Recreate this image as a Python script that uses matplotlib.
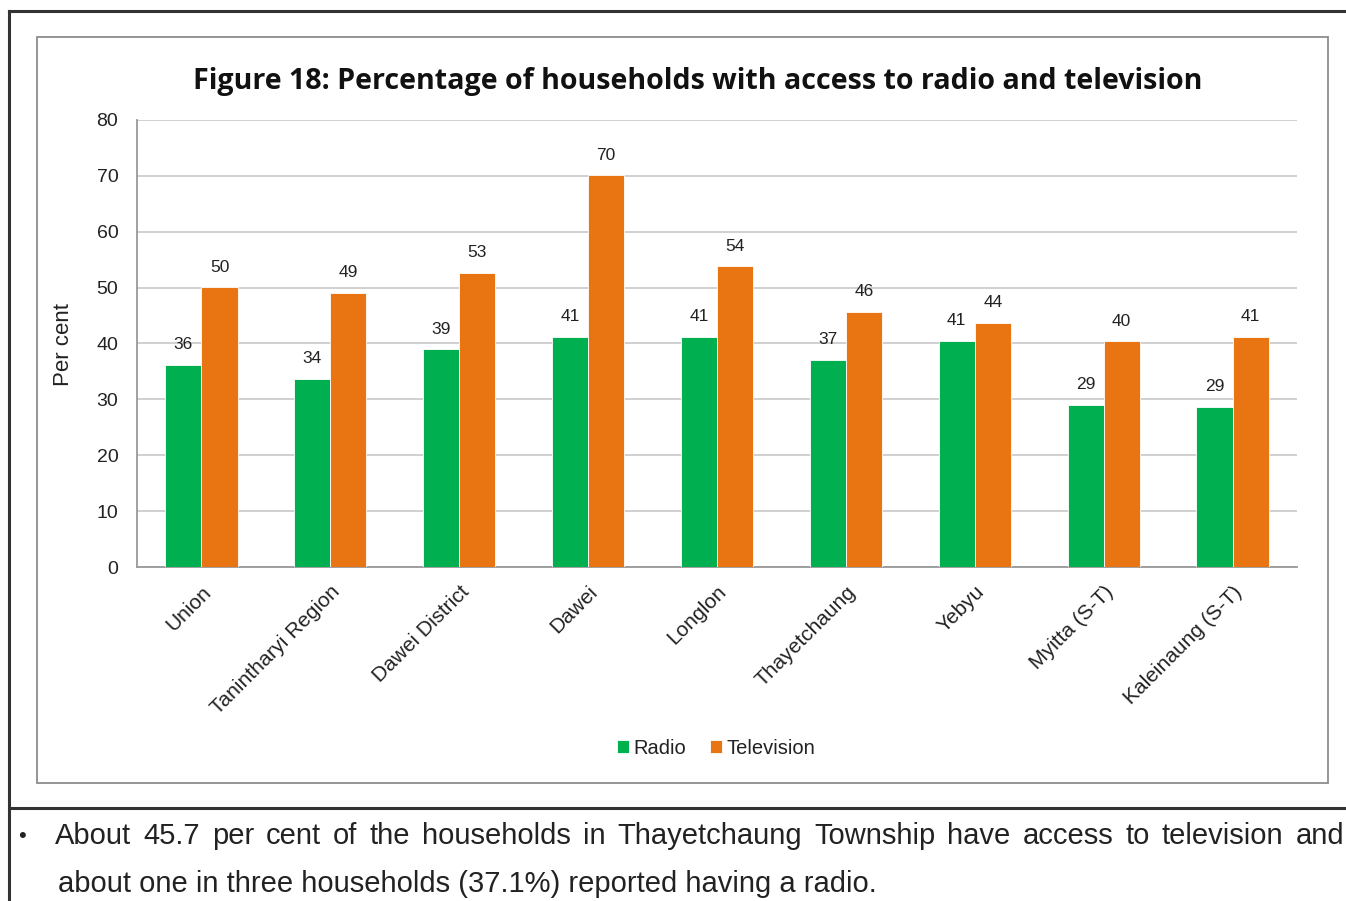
import matplotlib
matplotlib.use("Agg")
import matplotlib.pyplot as plt
from matplotlib.font_manager import FontProperties
from matplotlib.patches import Rectangle
from matplotlib.lines import Line2D
import numpy as np

categories = ["Union", "Tanintharyi Region", "Dawei District", "Dawei", "Longlon",
              "Thayetchaung", "Yebyu", "Myitta (S-T)", "Kaleinaung (S-T)"]
radio = [36.2, 33.7, 39.0, 41.2, 41.2, 37.1, 40.5, 29.0, 28.7]
television = [50.1, 49.1, 52.7, 70.1, 53.8, 45.7, 43.7, 40.4, 41.2]
radio_labels = ["36", "34", "39", "41", "41", "37", "41", "29", "29"]
tv_labels = ["50", "49", "53", "70", "54", "46", "44", "40", "41"]
yticks = [0, 10, 20, 30, 40, 50, 60, 70, 80]
title = "Figure 18: Percentage of households with access to radio and television"
line1 = "About 45.7 per cent of the households in Thayetchaung Township have access to television and"
line2 = "about one in three households (37.1%) reported having a radio."

GREEN = "#00B050"
ORANGE = "#E87511"

W, H = 1346, 901
fig = plt.figure(figsize=(W / 100, H / 100), dpi=100)
fig.patch.set_facecolor("white")

def fx(x): return x / W
def fy(y): return 1 - y / H

sans = ["Liberation Sans", "DejaVu Sans"]

# outer frame lines
for (x0, y0, x1, y1) in [(9, 11, W, 11), (9, 11, 9, H), (9, 808, W, 808)]:
    fig.add_artist(Line2D([fx(x0), fx(x1)], [fy(y0), fy(y1)], color="#333333", lw=2.2,
                          transform=fig.transFigure))
# inner chart box
fig.add_artist(Rectangle((fx(37), fy(783)), fx(1328) - fx(37), fy(37) - fy(783),
                         transform=fig.transFigure, fill=False, ec="#8c8c8c", lw=1.3))

ax = fig.add_axes([fx(137), fy(567), fx(1297) - fx(137), fy(120) - fy(567)])
x = np.arange(len(categories))
bw = 0.28
b1 = ax.bar(x - bw / 2, radio, bw, color=GREEN, edgecolor="white", linewidth=0.6, label="Radio", zorder=3)
b2 = ax.bar(x + bw / 2, television, bw, color=ORANGE, edgecolor="white", linewidth=0.6, label="Television", zorder=3)
for bars, labs in ((b1, radio_labels), (b2, tv_labels)):
    for rect, lab in zip(bars, labs):
        ax.annotate(lab, (rect.get_x() + rect.get_width() / 2, rect.get_height()), xytext=(0, 9),
                    textcoords="offset points", ha="center", va="bottom", fontsize=12.5,
                    family=sans, color="#222222")

ax.set_xlim(-0.5, len(categories) - 0.5)
ax.set_ylim(0, 80)
ax.set_yticks(yticks)
ax.set_yticklabels([str(v) for v in yticks], family=sans, fontsize=14, color="#222222")
ax.set_xticks(x)
ax.set_xticklabels(categories, rotation=45, ha="right", rotation_mode="anchor",
                   family=sans, fontsize=15, color="#222222")
ax.tick_params(axis="both", length=0)
ax.tick_params(axis="y", pad=13.5)
ax.tick_params(axis="x", pad=11)
ax.grid(axis="y", color="#c8c8c8", lw=1.2, zorder=0)
for s in ["top", "right"]:
    ax.spines[s].set_visible(False)
for s in ["left", "bottom"]:
    ax.spines[s].set_color("#999999")
    ax.spines[s].set_linewidth(1.3)
ax.set_ylabel("Per cent", family=sans, fontsize=16, color="#222222")
ax.yaxis.set_label_coords((74 - 137) / (1297 - 137), (567 - 345) / (567 - 120))

fig.text(fx(698), fy(81), title, ha="center", va="center", fontsize=20.6,
         fontweight="bold", family=["Open Sans", "DejaVu Sans"], color="#111111")

leg = fig.legend(handles=[b1, b2], labels=["Radio", "Television"], loc="center",
                 bbox_to_anchor=(fx(716), fy(748)), ncol=2, frameon=False,
                 prop=FontProperties(family=sans, size=14.5), handlelength=0.6,
                 handleheight=0.6, handletextpad=0.2, columnspacing=1.2)
for t in leg.get_texts():
    t.set_color("#222222")

# body text
fig.text(fx(22), fy(836), "\u2022", ha="center", va="center", fontsize=16, family=sans, color="#222222")
fig.canvas.draw()
renderer = fig.canvas.get_renderer()
words = line1.split(" ")
fp = FontProperties(family=sans, size=21)
tmp = [fig.text(0, 0, w, fontproperties=fp) for w in words]
widths = [t.get_window_extent(renderer).width for t in tmp]
for t in tmp:
    t.remove()
x0, x1 = 55, 1344
gap = (x1 - x0 - sum(widths)) / (len(words) - 1)
cx = x0
for w, wd in zip(words, widths):
    fig.text(fx(cx), fy(836), w, fontproperties=fp, ha="left", va="center", color="#222222")
    cx += wd + gap
fig.text(fx(58), fy(884), line2, fontproperties=fp, ha="left", va="center", color="#222222")

fig.savefig("out.png", dpi=100, facecolor="white")
